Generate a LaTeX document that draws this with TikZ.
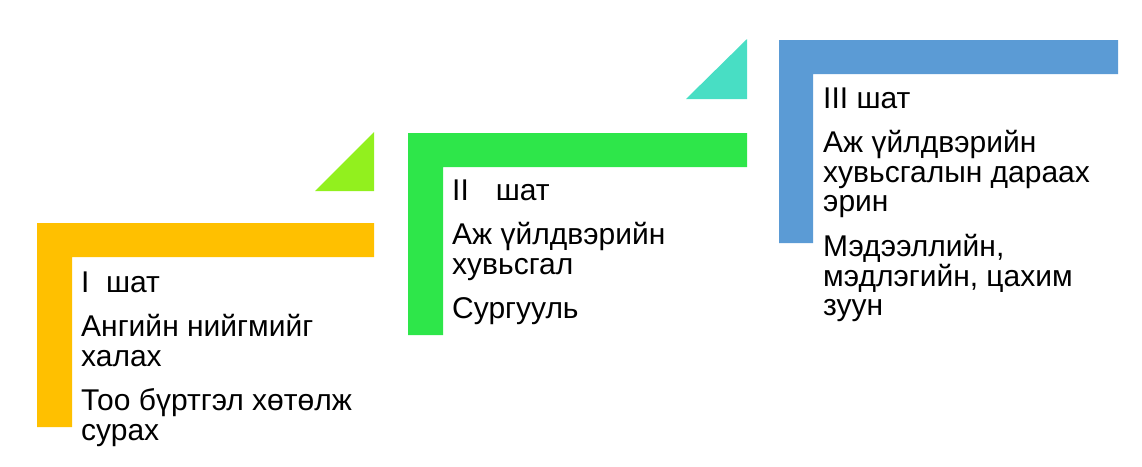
\documentclass[tikz,border=0pt]{standalone}
\usepackage{fontspec}
\setmainfont{Liberation Sans}
\definecolor{cOrange}{RGB}{255,192,0}
\definecolor{cLime}{RGB}{146,240,30}
\definecolor{cGreen}{RGB}{46,230,74}
\definecolor{cTeal}{RGB}{72,222,196}
\definecolor{cBlue}{RGB}{91,155,213}
\tikzset{
  stagetext/.style={anchor=base west, inner sep=0pt,
    font=\fontsize{30}{30}\selectfont, text=black},
}
\begin{document}
\begin{tikzpicture}[x=1pt,y=-1pt]
\useasboundingbox (0,0) rectangle (1142,466);
% stage I
\fill[cOrange] (37,223) -- (374,223) -- (374,257) -- (72,257) -- (72,427) -- (37,427) -- cycle;
\fill[cLime] (315,191) -- (374,132) -- (374,191) -- cycle;
\node[stagetext] (s1a) at (81,292) {I\hspace{0.55em}шат};
\node[stagetext] (s1b) at (81,336) {Ангийн нийгмийг};
\node[stagetext] (s1c) at (81,366) {халах};
\node[stagetext] (s1d) at (81,410) {Тоо бүртгэл хөтөлж};
\node[stagetext] (s1e) at (81,440) {сурах};
% stage II
\fill[cGreen] (408,133) -- (747,133) -- (747,167) -- (443,167) -- (443,335) -- (408,335) -- cycle;
\fill[cTeal] (686,99) -- (747,39) -- (747,99) -- cycle;
\node[stagetext] (s2a) at (452,200) {II\hspace{0.9em}шат};
\node[stagetext] (s2b) at (452,244) {Аж үйлдвэрийн};
\node[stagetext] (s2c) at (452,274) {хувьсгал};
\node[stagetext] (s2d) at (452,318) {Сургууль};
% stage III
\fill[cBlue] (779,40) -- (1118,40) -- (1118,74) -- (813,74) -- (813,243) -- (779,243) -- cycle;
\node[stagetext] (s3a) at (823,108) {III шат};
\node[stagetext] (s3b) at (823,152) {Аж үйлдвэрийн};
\node[stagetext] (s3c) at (823,182) {хувьсгалын дараах};
\node[stagetext] (s3d) at (823,211) {эрин};
\node[stagetext] (s3e) at (823,256) {Мэдээллийн,};
\node[stagetext] (s3f) at (823,286) {мэдлэгийн, цахим};
\node[stagetext] (s3g) at (823,315) {зуун};
\end{tikzpicture}
\end{document}
